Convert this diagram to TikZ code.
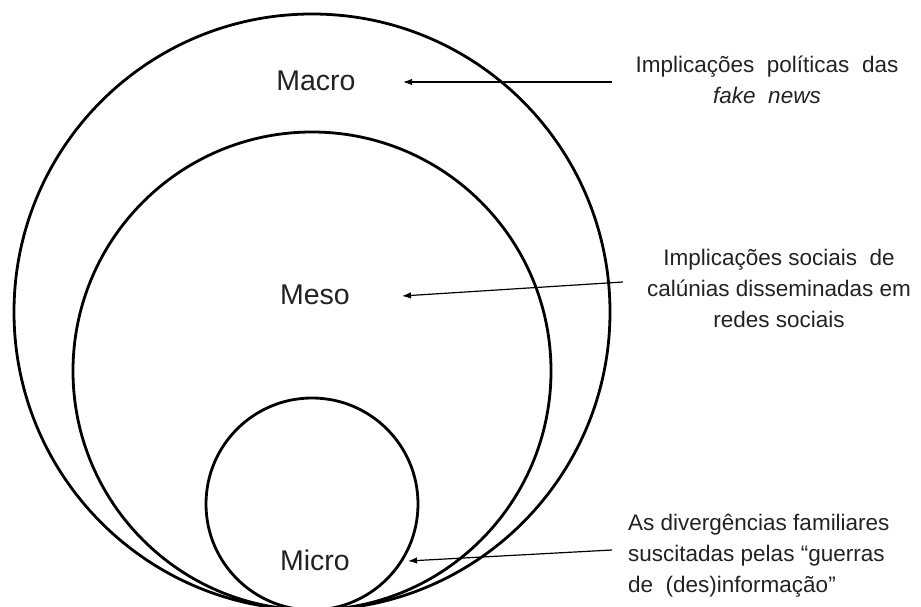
\documentclass[tikz,border=0pt]{standalone}
\usepackage{fontspec}
\setmainfont{Liberation Sans}
\usepackage{tikz}
\usetikzlibrary{shapes, arrows.meta, positioning}
\definecolor{ink}{HTML}{222222}
\tikzstyle{o}    = [draw, circle, line width=2.8pt, inner sep=0pt]
\tikzstyle{lbl}  = [text=ink, font=\fontsize{28.5}{34}\selectfont, inner sep=0pt]
\tikzstyle{txt}  = [text=ink, font=\fontsize{22.5}{31}\selectfont, inner sep=0pt]
\tikzstyle{ptr}  = [draw, line width=1.2pt, -{Latex[length=9pt, width=6.5pt]}]

\begin{document}
\begin{tikzpicture}[x=1pt, y=-1pt]
\useasboundingbox (0,0) rectangle (921,607);

% circles
\node [o, minimum size=596pt] at ( 312 , 312 ) (macro) {};
\node [o, minimum size=478pt] at ( 312 , 371 ) (meso)  {};
\node [o, minimum size=212pt] at ( 312 , 504 ) (micro) {};

% labels
\node [lbl] at ( 316 ,  81 ) (lmacro) {Macro};
\node [lbl] at ( 315 , 295 ) (lmeso)  {Meso};
\node [lbl] at ( 315 , 560 ) (lmicro) {Micro};

% texts
\node [txt, align=center] at ( 767 ,  80 ) (tmacro)
      {Implicações\ \ políticas\ \ das\\ \textit{fake\ \ news}};
\node [txt, align=center] at ( 779 , 288 ) (tmeso)
      {Implicações sociais\ \ de\\ calúnias disseminadas em\\ redes sociais};
\node [txt, align=left, anchor=west] at ( 628 , 556 ) (tmicro)
      {As divergências familiares\\ suscitadas pelas “guerras\\ de\ \ (des)informação”};

% arrow ends
\coordinate (a1) at ( 612 ,  82 );
\coordinate (b1) at ( 403 ,  82 );
\coordinate (a2) at ( 623 , 282 );
\coordinate (b2) at ( 402 , 296 );
\coordinate (a3) at ( 612 , 550 );
\coordinate (b3) at ( 408 , 561 );

%  edges
\path (a1) edge [ptr] (b1)
      (a2) edge [ptr] (b2)
      (a3) edge [ptr] (b3);

\end{tikzpicture}
\end{document}
